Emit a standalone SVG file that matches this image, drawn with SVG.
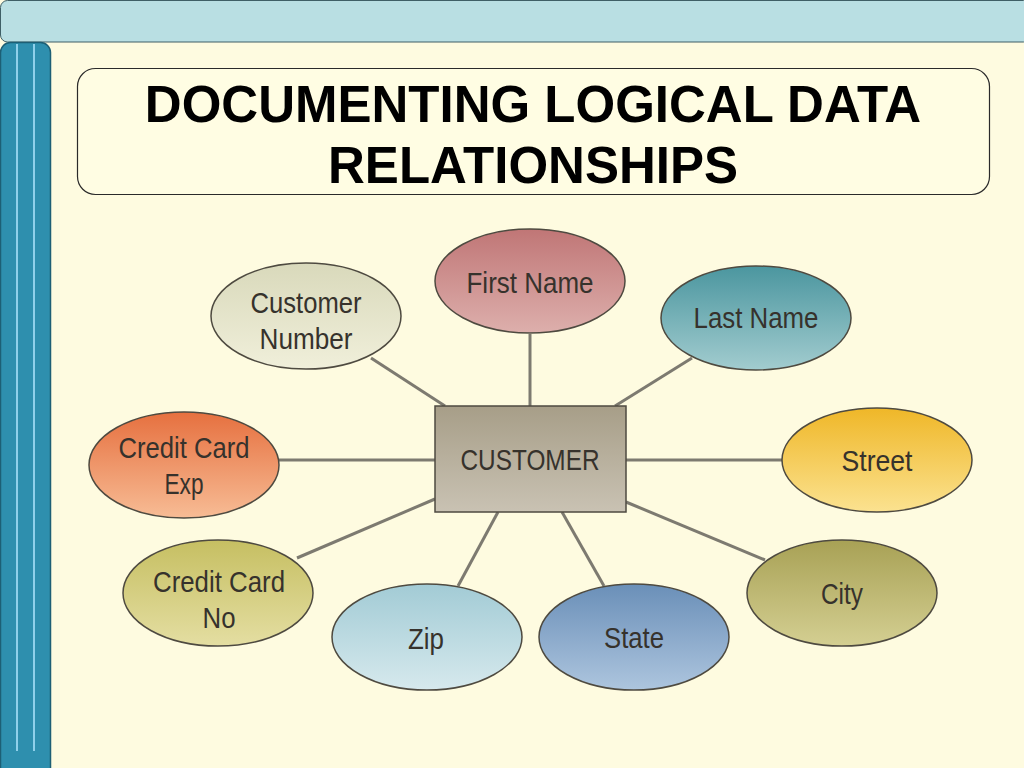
<svg xmlns="http://www.w3.org/2000/svg" width="1024" height="768" viewBox="0 0 1024 768">
<defs>
<linearGradient id="gFirst" x1="0" y1="0" x2="0" y2="1"><stop offset="0" stop-color="#c07676"/><stop offset="1" stop-color="#ddafac"/></linearGradient>
<linearGradient id="gCust" x1="0" y1="0" x2="0" y2="1"><stop offset="0" stop-color="#d9d9bb"/><stop offset="1" stop-color="#f0efda"/></linearGradient>
<linearGradient id="gLast" x1="0" y1="0" x2="0" y2="1"><stop offset="0" stop-color="#4b969f"/><stop offset="1" stop-color="#a2cccf"/></linearGradient>
<linearGradient id="gExp" x1="0" y1="0" x2="0" y2="1"><stop offset="0" stop-color="#e6703f"/><stop offset="1" stop-color="#f7bc95"/></linearGradient>
<linearGradient id="gStreet" x1="0" y1="0" x2="0" y2="1"><stop offset="0" stop-color="#efb728"/><stop offset="1" stop-color="#fbe290"/></linearGradient>
<linearGradient id="gNo" x1="0" y1="0" x2="0" y2="1"><stop offset="0" stop-color="#c6bf62"/><stop offset="1" stop-color="#e4dea2"/></linearGradient>
<linearGradient id="gZip" x1="0" y1="0" x2="0" y2="1"><stop offset="0" stop-color="#a2cbd5"/><stop offset="1" stop-color="#d6e9ed"/></linearGradient>
<linearGradient id="gState" x1="0" y1="0" x2="0" y2="1"><stop offset="0" stop-color="#6a8fb8"/><stop offset="1" stop-color="#adc5de"/></linearGradient>
<linearGradient id="gCity" x1="0" y1="0" x2="0" y2="1"><stop offset="0" stop-color="#a8a155"/><stop offset="1" stop-color="#d4cf92"/></linearGradient>
<linearGradient id="gRect" x1="0" y1="0" x2="0" y2="1"><stop offset="0" stop-color="#a79e88"/><stop offset="1" stop-color="#c9c2b3"/></linearGradient>
</defs>
<style>
.attr{stroke:#4e4a40;stroke-width:1.5}
.lbl{font-family:"Liberation Sans",Arial,sans-serif;font-size:29px;fill:#36322c;text-anchor:middle}
.conn line{stroke:#7d7a70;stroke-width:3}
.title{font-family:"Liberation Sans",Arial,sans-serif;font-weight:bold;font-size:51px;fill:#000;text-anchor:middle}
</style>
<rect x="0" y="0" width="1024" height="768" fill="#fefbe0"/>
<rect x="0.5" y="0.5" width="1030" height="41.5" rx="7" fill="#b9dfe3" stroke="#3f5f66" stroke-width="1"/>
<rect x="0.5" y="42.5" width="50" height="740" rx="10" fill="#2e8fae" stroke="#1d5f75" stroke-width="1.5"/>
<line x1="17" y1="44" x2="17" y2="751" stroke="#8fd0ea" stroke-width="2"/>
<line x1="34" y1="44" x2="34" y2="751" stroke="#8fd0ea" stroke-width="2"/>
<rect x="77.5" y="68.5" width="912" height="126" rx="18" fill="#fffde3" stroke="#2a2a2a" stroke-width="1.2"/>
<text class="title" x="533" y="122">DOCUMENTING LOGICAL DATA</text>
<text class="title" x="533" y="183">RELATIONSHIPS</text>
<g id="connectors" class="conn">
<line x1="371" y1="358" x2="445" y2="406"/>
<line x1="530" y1="334" x2="530" y2="406"/>
<line x1="692" y1="358" x2="615" y2="406"/>
<line x1="279" y1="460" x2="435" y2="460"/>
<line x1="626" y1="460" x2="782" y2="460"/>
<line x1="297" y1="558" x2="435" y2="499"/>
<line x1="458" y1="586" x2="498" y2="512"/>
<line x1="604" y1="586" x2="562" y2="512"/>
<line x1="765" y1="560" x2="626" y2="502"/>
</g>
<g id="customer"><rect class="attr" x="435" y="406" width="191" height="106" fill="url(#gRect)"/><text class="lbl" x="530" y="470" textLength="139" lengthAdjust="spacingAndGlyphs">CUSTOMER</text></g>
<g id="first-name"><ellipse class="attr" cx="530" cy="281" rx="95" ry="52" fill="url(#gFirst)"/><text class="lbl" x="530" y="293" textLength="127" lengthAdjust="spacingAndGlyphs">First Name</text></g>
<g id="customer-number"><ellipse class="attr" cx="306" cy="316" rx="95" ry="53" fill="url(#gCust)"/><text class="lbl" x="306" y="313" textLength="111" lengthAdjust="spacingAndGlyphs">Customer</text><text class="lbl" x="306" y="349" textLength="93" lengthAdjust="spacingAndGlyphs">Number</text></g>
<g id="last-name"><ellipse class="attr" cx="756" cy="318" rx="95" ry="52" fill="url(#gLast)"/><text class="lbl" x="756" y="328" textLength="125" lengthAdjust="spacingAndGlyphs">Last Name</text></g>
<g id="credit-card-exp"><ellipse class="attr" cx="184" cy="465" rx="95" ry="53" fill="url(#gExp)"/><text class="lbl" x="184" y="458" textLength="131" lengthAdjust="spacingAndGlyphs">Credit Card</text><text class="lbl" x="184" y="494" textLength="39" lengthAdjust="spacingAndGlyphs">Exp</text></g>
<g id="street"><ellipse class="attr" cx="877" cy="460" rx="95" ry="52" fill="url(#gStreet)"/><text class="lbl" x="877" y="471" textLength="71" lengthAdjust="spacingAndGlyphs">Street</text></g>
<g id="credit-card-no"><ellipse class="attr" cx="218" cy="593" rx="95" ry="53" fill="url(#gNo)"/><text class="lbl" x="219" y="592" textLength="132" lengthAdjust="spacingAndGlyphs">Credit Card</text><text class="lbl" x="219" y="628" textLength="33" lengthAdjust="spacingAndGlyphs">No</text></g>
<g id="zip"><ellipse class="attr" cx="427" cy="637" rx="95" ry="53" fill="url(#gZip)"/><text class="lbl" x="426" y="649" textLength="36" lengthAdjust="spacingAndGlyphs">Zip</text></g>
<g id="state"><ellipse class="attr" cx="634" cy="637" rx="95" ry="53" fill="url(#gState)"/><text class="lbl" x="634" y="648" textLength="60" lengthAdjust="spacingAndGlyphs">State</text></g>
<g id="city"><ellipse class="attr" cx="842" cy="593" rx="95" ry="53" fill="url(#gCity)"/><text class="lbl" x="842" y="604" textLength="42" lengthAdjust="spacingAndGlyphs">City</text></g>
</svg>
